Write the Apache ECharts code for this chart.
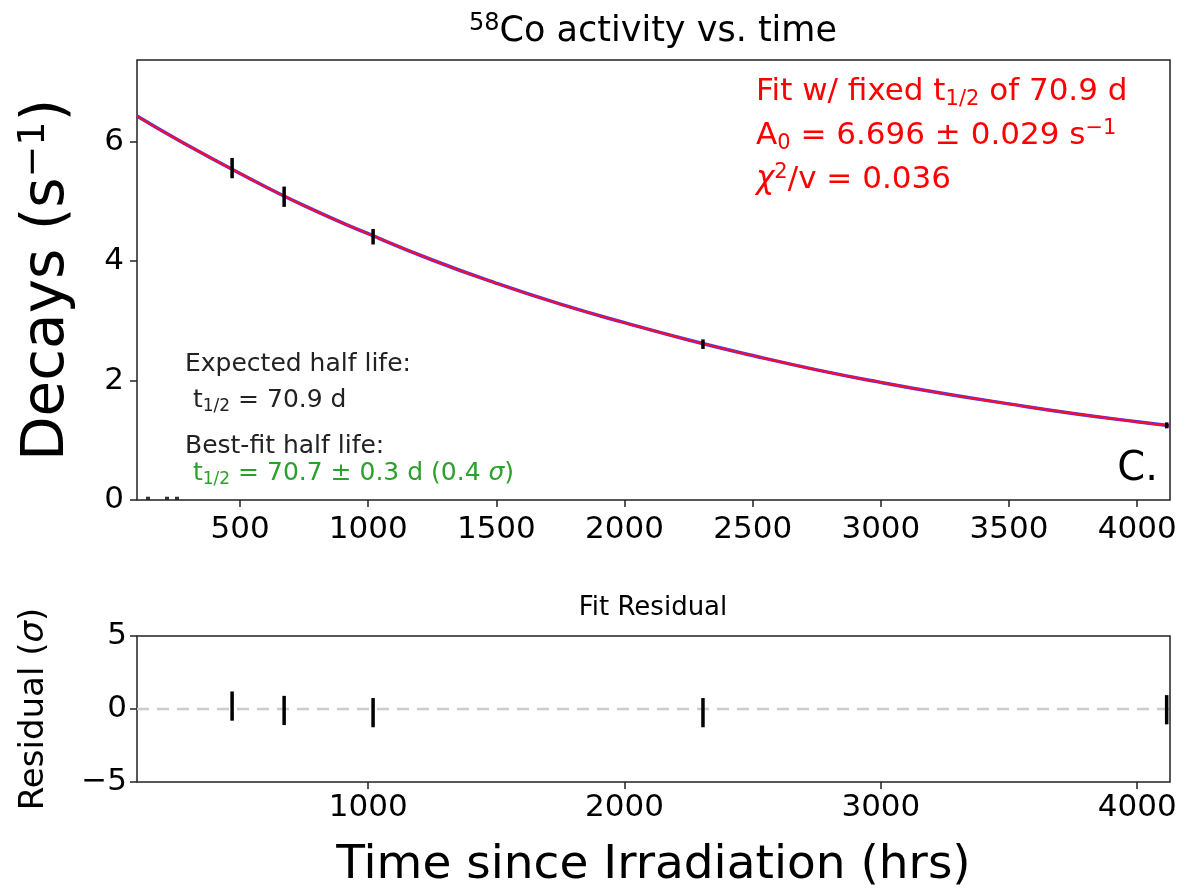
<!DOCTYPE html>
<html>
<head>
<meta charset="utf-8">
<script src="https://cdn.jsdelivr.net/npm/echarts@6/dist/echarts.min.js"></script>
<style>
  html, body { margin: 0; padding: 0; background: #fff; }
  #main { width: 1204px; height: 890px; }
</style>
</head>
<body>
<div id="main"></div>
<script>
// measured points (hrs, decays/s)
const timeHrs = [469, 672, 1019, 2306, 4115];
const activity = [5.56, 5.08, 4.41, 2.61, 1.25];
const activityErr = [0.17, 0.17, 0.13, 0.08, 0.05];

// residuals in sigma
const residuals = [0.2, -0.1, -0.25, -0.25, -0.05];
const residualErr = [1, 1, 1, 1, 1];

// points sitting on the axis at the far left
const lowTime = [141, 215, 254];
const lowActivity = [0.03, 0.03, 0.03];

// fit curve
const fitTime = [98, 250, 500, 750, 1000, 1250, 1500, 1750, 2000, 2250, 2500, 2750, 3000, 3250, 3500, 3750, 4000, 4128];
const fitActivity = [6.43, 6.05, 5.47, 4.93, 4.46, 4.02, 3.63, 3.28, 2.97, 2.68, 2.42, 2.18, 1.97, 1.78, 1.61, 1.45, 1.31, 1.245];

const xRange = [98, 4128];
const xTicksTop = [500, 1000, 1500, 2000, 2500, 3000, 3500, 4000];
const xTicksBottom = [1000, 2000, 3000, 4000];
const yTicksTop = [0, 2, 4, 6];
const yMaxTop = 7.37;

const FONT = 'DejaVu Sans';

var myChart = echarts.init(document.getElementById('main'));

function errorBars(params, api) {
  const x = api.value(0), y = api.value(1), e = api.value(2);
  const a = api.coord([x, y + e]);
  const b = api.coord([x, y - e]);
  return {
    type: 'line',
    shape: { x1: a[0], y1: a[1], x2: b[0], y2: b[1] },
    style: { stroke: '#000', lineWidth: 3.5 }
  };
}

const fitData = fitTime.map((t, i) => [t, fitActivity[i]]);
const pointData = timeHrs.map((t, i) => [t, activity[i], activityErr[i]]);
const residData = timeHrs.map((t, i) => [t, residuals[i], residualErr[i]]);
const lowData = lowTime.map((t, i) => [t, lowActivity[i]]);

const tickStyle = { show: true, length: 7, lineStyle: { color: '#222', width: 1.5 } };
const plainFmt = v => (v < 0 ? '\u2212' + Math.abs(v) : String(v));
const labelStyle = { color: '#000', fontSize: 31, fontFamily: FONT, margin: 10, formatter: plainFmt };

var option = {
  animation: false,
  backgroundColor: '#fff',
  grid: [
    { left: 137, top: 60, right: 34, height: 440, show: true, borderColor: '#222', borderWidth: 1.5 },
    { left: 137, top: 636, right: 34, height: 146, show: true, borderColor: '#222', borderWidth: 1.5 }
  ],
  xAxis: [
    {
      gridIndex: 0, type: 'value', min: xRange[0], max: xRange[1],
      axisLine: { show: false, onZero: false },
      axisTick: Object.assign({ customValues: xTicksTop }, tickStyle),
      axisLabel: Object.assign({}, labelStyle, { customValues: xTicksTop, margin: 14 }),
      splitLine: { show: false }
    },
    {
      gridIndex: 1, type: 'value', min: xRange[0], max: xRange[1],
      axisLine: { show: false, onZero: false },
      axisTick: Object.assign({ customValues: xTicksBottom }, tickStyle),
      axisLabel: Object.assign({}, labelStyle, { customValues: xTicksBottom }),
      splitLine: { show: false },
      name: 'Time since Irradiation (hrs)',
      nameLocation: 'middle', nameGap: 60,
      nameTextStyle: { fontSize: 47, fontFamily: FONT, color: '#000' }
    }
  ],
  yAxis: [
    {
      gridIndex: 0, type: 'value', min: 0, max: yMaxTop,
      axisLine: { show: false, onZero: false },
      axisTick: Object.assign({ customValues: yTicksTop }, tickStyle),
      axisLabel: Object.assign({}, labelStyle, { customValues: yTicksTop, margin: 13 }),
      splitLine: { show: false },
      name: '{n|Decays (s}{sup|\u22121}{n|)}',
      nameLocation: 'middle', nameGap: 56, nameRotate: 90,
      nameTextStyle: {
        rich: {
          n: { fontSize: 58, fontFamily: FONT, color: '#000' },
          sup: { fontSize: 38, fontFamily: FONT, color: '#000', padding: [0, 0, 28, 0] }
        }
      }
    },
    {
      gridIndex: 1, type: 'value', min: -5, max: 5, interval: 5,
      axisLine: { show: false, onZero: false },
      axisTick: tickStyle,
      axisLabel: labelStyle,
      splitLine: { show: false },
      name: '{n|Residual (}{i|\u03c3}{n|)}',
      nameLocation: 'middle', nameGap: 86, nameRotate: 90,
      nameTextStyle: {
        rich: {
          n: { fontSize: 34, fontFamily: FONT, color: '#000' },
          i: { fontSize: 34, fontFamily: FONT, color: '#000', fontStyle: 'italic' }
        }
      }
    }
  ],
  graphic: [
    {
      type: 'text', x: 653, y: 32,
      style: {
        text: '{sup|58}{n|Co activity vs. time}',
        align: 'center', verticalAlign: 'middle',
        rich: {
          n: { fontSize: 35, fontFamily: FONT, fill: '#000' },
          sup: { fontSize: 24, fontFamily: FONT, fill: '#000', padding: [0, 0, 17, 0] }
        }
      }
    },
    {
      type: 'text', x: 653, y: 608,
      style: {
        text: 'Fit Residual', align: 'center', verticalAlign: 'middle',
        fontSize: 26, fontFamily: FONT, fill: '#000'
      }
    },
    {
      type: 'text', left: 756, top: 70,
      style: {
        text: '{n|Fit w/ fixed t}{sub|1/2}{n| of 70.9 d}\n{n|A}{sub|0}{n| = 6.696 \u00b1 0.029 s}{sup|\u22121}\n{i|\u03c7}{sup|2}{n|/v = 0.036}',
        fill: '#ff0000',
        lineHeight: 44,
        rich: {
          n: { fontSize: 31, fontFamily: FONT, fill: '#ff0000', lineHeight: 44 },
          i: { fontSize: 31, fontFamily: FONT, fontStyle: 'italic', fill: '#ff0000', lineHeight: 44 },
          sub: { fontSize: 21, fontFamily: FONT, fill: '#ff0000', padding: [15, 0, 0, 0], lineHeight: 44 },
          sup: { fontSize: 21, fontFamily: FONT, fill: '#ff0000', padding: [0, 0, 15, 0], lineHeight: 44 }
        }
      }
    },
    {
      type: 'text', left: 185, top: 352,
      style: { text: 'Expected half life:', fontSize: 25, fontFamily: FONT, fill: '#222' }
    },
    {
      type: 'text', left: 193, top: 388,
      style: {
        text: '{n|t}{sub|1/2}{n| = 70.9 d}',
        rich: {
          n: { fontSize: 25, fontFamily: FONT, fill: '#222' },
          sub: { fontSize: 17, fontFamily: FONT, fill: '#222', padding: [12, 0, 0, 0] }
        }
      }
    },
    {
      type: 'text', left: 185, top: 434,
      style: { text: 'Best-fit half life:', fontSize: 25, fontFamily: FONT, fill: '#222' }
    },
    {
      type: 'text', left: 193, top: 461,
      style: {
        text: '{n|t}{sub|1/2}{n| = 70.7 \u00b1 0.3 d (0.4 }{i|\u03c3}{n|)}',
        rich: {
          n: { fontSize: 25, fontFamily: FONT, fill: '#2ca02c' },
          i: { fontSize: 25, fontFamily: FONT, fontStyle: 'italic', fill: '#2ca02c' },
          sub: { fontSize: 17, fontFamily: FONT, fill: '#2ca02c', padding: [12, 0, 0, 0] }
        }
      }
    },
    {
      type: 'text', right: 1204 - 1158, top: 450,
      style: { text: 'C.', fontSize: 40, fontFamily: FONT, fill: '#000' }
    }
  ],
  series: [
    {
      type: 'line', xAxisIndex: 0, yAxisIndex: 0,
      data: fitData, smooth: true, showSymbol: false, symbol: 'none',
      lineStyle: { color: '#3b3bff', width: 3.5 }, z: 2
    },
    {
      type: 'line', xAxisIndex: 0, yAxisIndex: 0,
      data: fitData, smooth: true, showSymbol: false, symbol: 'none',
      lineStyle: { color: '#ff0a2a', width: 2.2 }, z: 3
    },
    {
      type: 'custom', xAxisIndex: 0, yAxisIndex: 0,
      renderItem: errorBars, data: pointData,
      encode: { x: 0, y: 1 }, z: 4
    },
    {
      type: 'scatter', xAxisIndex: 0, yAxisIndex: 0,
      data: lowData, symbol: 'rect', symbolSize: [4, 3],
      itemStyle: { color: '#000' }, z: 4
    },
    {
      type: 'line', xAxisIndex: 1, yAxisIndex: 1,
      data: xRange.map(t => [t, 0]), symbol: 'none',
      lineStyle: { color: '#cccccc', width: 2.5, type: [12, 8] }, z: 2
    },
    {
      type: 'custom', xAxisIndex: 1, yAxisIndex: 1,
      renderItem: errorBars, data: residData,
      encode: { x: 0, y: 1 }, z: 4
    }
  ]
};

myChart.setOption(option);
</script>
</body>
</html>
